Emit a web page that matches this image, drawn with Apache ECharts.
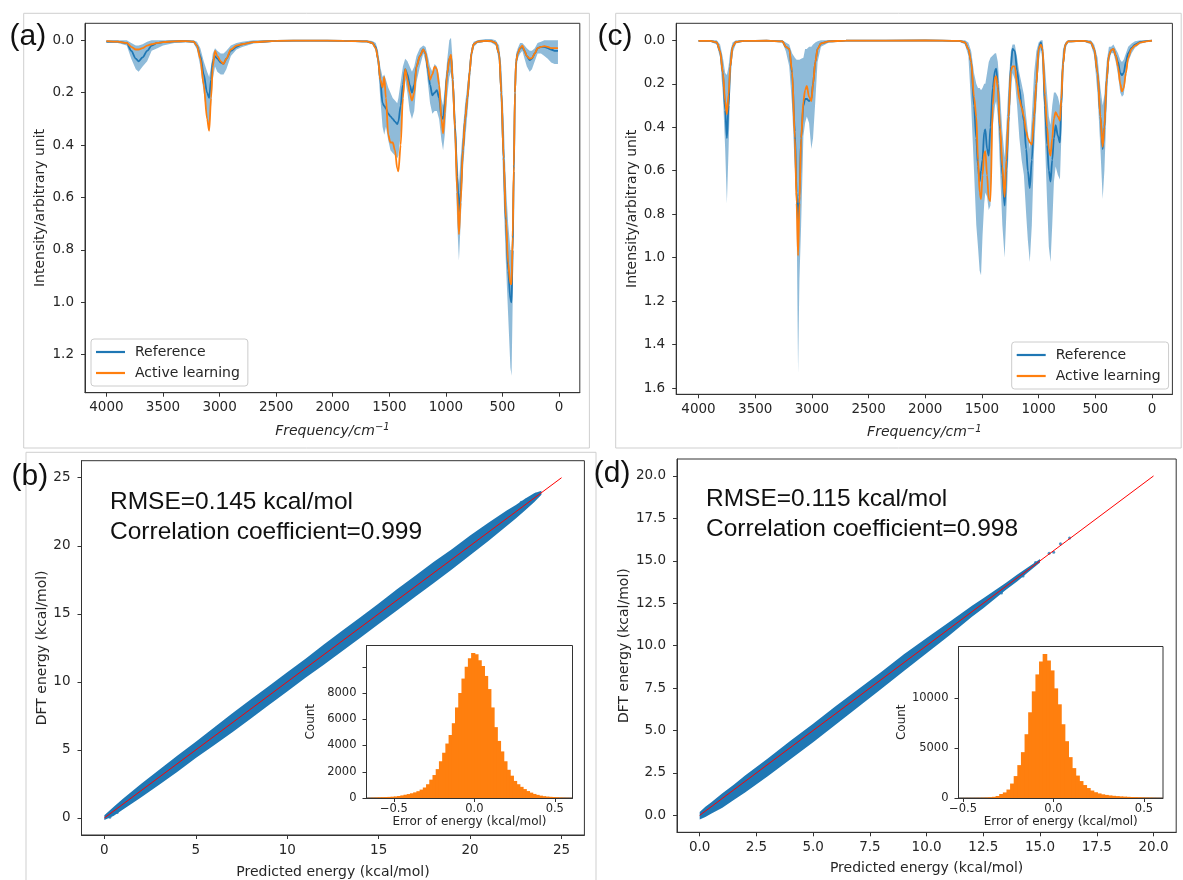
<!DOCTYPE html>
<html><head><meta charset="utf-8">
<script src="https://cdn.jsdelivr.net/npm/echarts@6/dist/echarts.min.js"></script>
<style>html,body{margin:0;padding:0;background:#fff}#c{width:1183px;height:880px}</style>
</head><body><div id="c"></div>
<script>
// ---------- Panel (a): IR spectrum ----------
const freqA = [4000,3900,3820,3780,3740,3715,3680,3640,3600,3550,3500,3400,3300,3230,3200,3170,3140,3110,3092,3075,3060,3040,3020,2990,2965,2940,2900,2850,2800,2700,2500,2200,1900,1700,1650,1620,1600,1580,1560,1545,1530,1510,1490,1470,1450,1430,1420,1400,1380,1360,1340,1320,1300,1280,1260,1230,1200,1180,1160,1140,1120,1100,1080,1060,1040,1025,1010,990,970,955,940,920,900,885,870,850,830,810,790,775,755,720,650,600,560,530,510,490,470,450,430,420,410,400,390,380,365,345,325,305,285,260,240,215,190,160,130,100,70,40,10];
const refA = [.005,.005,.01,.04,.07,.08,.065,.04,.02,.01,.007,.004,.003,.005,.02,.06,.13,.2,.22,.15,.08,.06,.07,.085,.09,.07,.04,.025,.015,.007,.002,.001,.002,.004,.01,.025,.07,.15,.24,.25,.26,.28,.29,.3,.31,.32,.31,.25,.17,.11,.13,.17,.2,.17,.1,.06,.035,.05,.11,.17,.21,.2,.19,.22,.29,.3,.24,.13,.07,.06,.15,.32,.52,.655,.58,.42,.3,.22,.12,.05,.015,.005,.002,.003,.01,.05,.2,.45,.7,.88,.99,1.0,.8,.5,.2,.08,.05,.03,.025,.04,.06,.075,.07,.05,.03,.025,.025,.03,.035,.04,.04];
const alA = [.003,.005,.01,.025,.035,.035,.03,.02,.015,.01,.007,.004,.003,.005,.02,.07,.17,.3,.345,.22,.1,.04,.06,.08,.09,.07,.035,.02,.015,.007,.002,.001,.002,.004,.01,.03,.07,.15,.18,.14,.22,.36,.39,.39,.42,.49,.5,.4,.22,.11,.15,.2,.23,.2,.1,.06,.035,.05,.1,.15,.13,.1,.11,.17,.3,.355,.28,.13,.07,.055,.15,.34,.58,.74,.62,.42,.3,.22,.12,.05,.015,.005,.002,.003,.01,.05,.2,.45,.68,.85,.93,.93,.75,.48,.2,.08,.05,.03,.02,.04,.06,.07,.068,.05,.03,.025,.022,.025,.03,.03,.03];
const bandLoA = [0,0,0,.01,.02,.02,.015,.005,0,0,0,0,0,0,.005,.03,.08,.12,.14,.1,.05,.03,.04,.05,.05,.04,.02,.01,.005,0,0,0,0,0,.003,.01,.04,.1,.14,.13,.15,.18,.2,.22,.23,.24,.22,.16,.1,.07,.08,.1,.12,.1,.06,.03,.02,.025,.06,.1,.12,.09,.1,.14,.22,.25,.18,.08,0,-.01,.08,.26,.45,.55,.45,.34,.24,.17,.08,.03,.005,0,-.005,-.005,0,.02,.1,.3,.55,.7,.8,.8,.6,.35,.12,.05,.03,.01,.01,.02,.03,.04,.04,.03,.01,.005,0,0,0,0,0];
const bandHiA = [.01,.01,.02,.07,.11,.12,.1,.08,.04,.03,.02,.01,.008,.01,.035,.1,.2,.3,.32,.25,.15,.1,.12,.13,.13,.11,.06,.035,.025,.012,.005,.004,.005,.008,.015,.04,.1,.22,.33,.36,.33,.38,.42,.43,.44,.45,.44,.36,.25,.15,.2,.27,.3,.27,.16,.1,.05,.08,.16,.24,.28,.27,.27,.3,.38,.42,.36,.22,.14,.12,.22,.42,.7,.84,.7,.5,.38,.28,.17,.08,.025,.01,.005,.008,.02,.08,.3,.6,.85,1.05,1.25,1.28,1.0,.65,.28,.12,.07,.05,.04,.07,.1,.12,.11,.08,.05,.05,.06,.07,.085,.09,.09];

// ---------- Panel (c): IR spectrum ----------
const freqC = [4000,3900,3840,3810,3785,3765,3750,3735,3720,3700,
  3670,3600,3400,3260,3230,3200,3175,3150,3135,3122,
  3110,3095,3075,3060,3045,3025,3005,2990,2970,2950,
  2920,2850,2700,2000,1700,1650,1620,1595,1570,1550,
  1535,1520,1508,1495,1480,1470,1455,1440,1425,1405,
  1385,1375,1360,1340,1320,1300,1285,1265,1245,1230,
  1210,1190,1170,1150,1130,1110,1095,1078,1060,1040,
  1020,1000,980,965,945,925,910,895,880,865,
  850,830,812,800,785,765,740,
  600,540,510,480,455,435,420,400,380,360,340,320,300,280,265,250,230,210,180,150,100,50,0];
const refC = [.003,.003,.01,.05,.15,.32,.45,.3,.12,.03,
  .008,.003,.002,.005,.03,.04,.15,.42,.7,.85,
  .72,.45,.3,.27,.27,.28,.27,.2,.1,.04,
  .015,.005,.002,.001,.003,.01,.04,.1,.3,.45,
  .58,.65,.6,.55,.42,.41,.5,.53,.4,.22,
  .14,.13,.2,.42,.62,.76,.6,.35,.12,.04,
  .05,.14,.22,.3,.37,.5,.6,.68,.55,.35,
  .2,.04,.01,.05,.3,.48,.6,.65,.55,.45,
  .39,.44,.47,.3,.11,.02,.005,
  .003,.01,.04,.15,.35,.5,.4,.18,.07,.045,.04,.07,.1,.15,.16,.15,.1,.06,.035,.02,.008,.004,.002];
const alC = [.003,.003,.01,.05,.15,.28,.34,.25,.12,.03,
  .008,.003,.002,.005,.03,.04,.14,.45,.75,.99,
  .75,.45,.28,.23,.21,.26,.28,.2,.1,.04,
  .015,.005,.002,.001,.003,.01,.04,.1,.26,.35,
  .55,.7,.73,.62,.52,.51,.62,.73,.74,.3,
  .17,.165,.22,.4,.58,.72,.55,.35,.14,.12,
  .12,.2,.27,.31,.35,.42,.45,.47,.48,.35,
  .2,.04,.02,.04,.25,.4,.5,.53,.45,.36,
  .33,.35,.37,.27,.11,.02,.005,
  .003,.01,.04,.15,.35,.49,.4,.18,.07,.045,.04,.07,.12,.2,.235,.22,.15,.08,.04,.025,.01,.005,.002];
const bandLoC = [0,0,0,.02,.08,.15,.16,.12,.05,.01,
  0,0,0,0,.01,.02,.06,.08,.09,.09,
  .09,.085,.08,.04,.04,.03,.03,.02,.01,.005,
  0,0,0,0,0,0,.01,.05,.15,.2,
  .22,.22,.23,.22,.2,.2,.15,.1,.08,.07,
  .06,.06,.1,.25,.42,.54,.4,.2,.05,.02,
  .02,.08,.15,.2,.25,.35,.42,.5,.35,.15,
  .05,.01,0,0,.12,.25,.35,.39,.3,.24,
  .24,.26,.3,.15,.04,.01,0,
  0,0,.02,.08,.22,.3,.25,.1,.03,.03,.02,.04,.06,.09,.1,.09,.06,.03,.015,.005,0,0,0];
const bandHiC = [.006,.006,.02,.08,.25,.5,.75,.5,.2,.06,
  .015,.006,.005,.01,.05,.12,.3,.6,.8,1.53,
  1.1,.85,.44,.38,.35,.38,.5,.45,.28,.1,
  .03,.01,.004,.003,.006,.02,.07,.3,.6,.85,
  .95,1.06,1.08,.9,.75,.7,.72,.78,.76,.4,
  .3,.28,.35,.6,.85,1.0,.8,.5,.25,.15,
  .18,.3,.45,.55,.62,.8,.92,1.02,.85,.5,
  .3,.1,.04,.1,.45,.75,.95,1.02,.85,.65,
  .58,.62,.64,.45,.15,.04,.01,
  .006,.02,.07,.25,.5,.73,.6,.3,.1,.06,.06,.1,.16,.24,.26,.25,.17,.1,.06,.035,.015,.008,.004];

// ---------- Panel (b): parity band + error histogram ----------
const scatBX    = [0,0.5,1,2,3,4,5,6,7,8,9,10,11,12,13,14,15,16,17,18,19,20,21,22,22.5,23,23.5,23.9];
const scatBLow  = [-0.15,0.15,0.6,1.5,2.45,3.4,4.4,5.35,6.3,7.3,8.3,9.3,10.3,11.25,12.25,13.25,14.25,15.25,16.25,17.25,18.25,19.3,20.35,21.45,22.0,22.6,23.2,23.75];
const scatBHigh = [0.2,0.8,1.4,2.5,3.55,4.6,5.6,6.65,7.7,8.7,9.7,10.7,11.7,12.75,13.75,14.75,15.75,16.8,17.8,18.8,19.75,20.75,21.7,22.6,23.0,23.45,23.85,24.05];
const outliersB = [[22.8,23.2],[23.1,23.4],[23.3,23.5],[23.6,23.8],[0.3,0.05],[0.7,0.4]];
const rmseB = 'RMSE=0.145 kcal/mol';
const corrB = 'Correlation coefficient=0.999';
const histBStart = -0.66, histBWidth = 0.02;
const histBCounts = [15,25,35,50,60,70,85,100,120,150,200,250,300,360,430,520,640,800,1050,1400,1750,2200,2800,3450,4150,4800,5700,6900,8000,9100,10000,10650,11050,10950,10500,10050,9300,8300,6900,5400,4350,3550,2800,2150,1700,1300,1050,850,680,530,410,310,240,180,140,110,90,75,55,35,25,15,10];

// ---------- Panel (d): parity band + error histogram ----------
const scatDX    = [0,0.25,0.5,1,1.5,2,3,4,5,6,7,8,9,10,11,12,12.5,13,13.5,14,14.5,15];
const scatDLow  = [-0.25,-0.1,0.1,0.45,0.9,1.35,2.3,3.3,4.3,5.35,6.4,7.45,8.5,9.55,10.6,11.7,12.2,12.75,13.3,13.8,14.35,14.9];
const scatDHigh = [0.2,0.5,0.75,1.3,1.8,2.35,3.35,4.4,5.4,6.45,7.45,8.45,9.5,10.45,11.4,12.35,12.8,13.25,13.7,14.2,14.65,15.1];
const outliersD = [[13.3,13.1],[14.0,14.0],[14.25,14.1],[14.8,14.9],[15.4,15.45],[15.6,15.5],[16.3,16.35],[15.9,16.0]];
const rmseD = 'RMSE=0.115 kcal/mol';
const corrD = 'Correlation coefficient=0.998';
const histDStart = -0.52, histDWidth = 0.02;
const histDCounts = [5,8,10,12,15,20,30,45,70,120,200,400,560,850,1450,2200,3300,4600,6400,8600,10700,12400,13700,14450,13800,12800,11000,9400,7400,5700,4100,3000,2250,1700,1300,1000,750,580,460,370,310,260,220,190,160,140,120,100,85,70,55,45,35,25,15,8];

// tick labels
const freqTicks = [0,500,1000,1500,2000,2500,3000,3500,4000];
const intTicksA = [0,0.2,0.4,0.6,0.8,1.0,1.2];
const intTicksC = [0,0.2,0.4,0.6,0.8,1.0,1.2,1.4,1.6];
const energyTicksB = [0,5,10,15,20,25];
const energyTicksD = [0,2.5,5,7.5,10,12.5,15,17.5,20];
const errTicks = [-0.5,0,0.5];
const countTicksB = [0,2000,4000,6000,8000,10000];
const countLabelsB = [0,2000,4000,6000,8000];
const countTicksD = [0,5000,10000];

// ---------- chart ----------
const BLUE = '#1f77b4', ORANGE = '#ff7f0e', FONT = 'DejaVu Sans', TXT = '#262626';
const BAND = 'rgba(31,119,180,0.5)';
const zip = (a, b) => a.map((v, i) => [v, b[i]]);
const fix1 = v => v.toFixed(1);
const errFmt = v => (v < 0 ? '\u2212' + Math.abs(v).toFixed(1) : v.toFixed(1));

function axis(grid, min, max, ticks, fmt, extra, labelTicks, fs, nfs, margin) {
  return Object.assign({
    type: 'value', gridIndex: grid, min: min, max: max,
    axisLine: {show: true, onZero: false, lineStyle: {color: '#333', width: 1}},
    axisTick: {show: true, inside: false, length: 4, customValues: ticks, lineStyle: {color: '#333'}},
    axisLabel: {show: true, customValues: labelTicks || ticks, formatter: fmt, fontFamily: FONT, fontSize: fs || 13.5, color: TXT, margin: margin},
    splitLine: {show: false},
    nameLocation: 'middle',
    nameTextStyle: {fontFamily: FONT, fontSize: nfs || 14, color: TXT}
  }, extra || {});
}
function grid(l, t, w, h) {
  return {left: l, top: t, width: w, height: h, containLabel: false, outerBoundsMode: 'none',
    show: true, borderColor: '#333', borderWidth: 1, backgroundColor: '#fff'};
}
// filled band between two edges, drawn as one polygon through the axis scales
function bandPoly(ax, xs, lo, hi, color) {
  return {type: 'custom', xAxisIndex: ax, yAxisIndex: ax, data: [[xs[0], lo[0]]], silent: true, clip: true, z: 1,
    renderItem: function (params, api) {
      const pts = [];
      for (let i = 0; i < xs.length; i++) pts.push(api.coord([xs[i], hi[i]]));
      for (let i = xs.length - 1; i >= 0; i--) pts.push(api.coord([xs[i], lo[i]]));
      return {type: 'polygon', shape: {points: pts}, style: {fill: color}};
    }};
}
function lineSeries(ax, name, xs, ys, color) {
  return {type: 'line', name: name, xAxisIndex: ax, yAxisIndex: ax, data: zip(xs, ys), symbol: 'none',
    smooth: 0.3, smoothMonotone: 'x', lineStyle: {color: color, width: 1.8}, itemStyle: {color: color}, z: 3};
}
function histSeries(ax, start, w, counts) {
  const data = counts.map((c, i) => [start + i * w, start + (i + 1) * w, c]);
  return {type: 'custom', xAxisIndex: ax, yAxisIndex: ax, data: data, encode: {x: [0, 1], y: 2}, silent: true, z: 3,
    renderItem: function (params, api) {
      const p0 = api.coord([api.value(0), api.value(2)]);
      const p1 = api.coord([api.value(1), 0]);
      return {type: 'rect', shape: {x: p0[0], y: p0[1], width: p1[0] - p0[0] + 1, height: p1[1] - p0[1]},
        style: {fill: ORANGE}};
    }};
}
function legend(l, t) {
  return {left: l, top: t, orient: 'vertical', icon: 'rect', itemWidth: 29, itemHeight: 2.2, itemGap: 5,
    padding: [5, 8, 5, 5], backgroundColor: 'rgba(255,255,255,0.85)', borderColor: '#cccccc', borderWidth: 1, borderRadius: 3,
    textStyle: {fontFamily: FONT, fontSize: 14, color: TXT, padding: [0, 0, 0, 5], lineHeight: 16},
    data: ['Reference', 'Active learning']};
}
const freqName = '{i|Frequency/cm}{s|\u22121}';
const freqRich = {i: {fontFamily: FONT, fontStyle: 'italic', fontSize: 14, color: TXT, lineHeight: 17},
                  s: {fontFamily: FONT, fontStyle: 'italic', fontSize: 10, color: TXT, verticalAlign: 'top', lineHeight: 17, padding: [0, 0, 7, 0]}};

const option = {
  animation: false,
  backgroundColor: '#fff',
  grid: [
    grid(85, 23.3, 494.8, 369.4),     // a
    grid(676.2, 23.3, 496.2, 371),    // c
    grid(81.5, 460.7, 502.9, 374.3),  // b
    grid(677, 459, 499.2, 373.3),     // d
    grid(366.5, 645.5, 206, 152.5),   // b inset
    grid(958.5, 646.5, 204.5, 151.5)  // d inset
  ],
  xAxis: [
    axis(0, -183, 4189, freqTicks, v => String(v), {inverse: true, name: freqName, nameGap: 30, nameTextStyle: {rich: freqRich}}, null, null, null, 8),
    axis(1, -180, 4197, freqTicks, v => String(v), {inverse: true, name: freqName, nameGap: 30, nameTextStyle: {rich: freqRich}}, null, null, null, 8),
    axis(2, -1.25, 26.25, energyTicksB, v => String(v), {name: 'Predicted energy (kcal/mol)', nameGap: 30}, null, null, null, 8),
    axis(3, -1, 21, energyTicksD, fix1, {name: 'Predicted energy (kcal/mol)', nameGap: 29}, null, null, null, 8),
    axis(4, -0.67, 0.61, errTicks, errFmt, {name: 'Error of energy (kcal/mol)', nameGap: 16}, null, 11.5, 12, 5),
    axis(5, -0.525, 0.605, errTicks, errFmt, {name: 'Error of energy (kcal/mol)', nameGap: 16}, null, 11.5, 12, 5)
  ],
  yAxis: [
    axis(0, -0.065, 1.345, intTicksA, fix1, {inverse: true, name: 'Intensity/arbitrary unit', nameGap: 38}, null, null, null, 11),
    axis(1, -0.078, 1.628, intTicksC, fix1, {inverse: true, name: 'Intensity/arbitrary unit', nameGap: 37}, null, null, null, 11),
    axis(2, -1.25, 26.25, energyTicksB, v => String(v), {name: 'DFT energy (kcal/mol)', nameGap: 32}, null, null, null, 11),
    axis(3, -1, 21, energyTicksD, fix1, {name: 'DFT energy (kcal/mol)', nameGap: 46}, null, null, null, 11),
    axis(4, 0, 11620, countTicksB, v => String(v), {name: 'Count', nameGap: 50}, countLabelsB, 11.5, 12, 10),
    axis(5, 0, 15200, countTicksD, v => String(v), {name: 'Count', nameGap: 48}, null, 11.5, 12, 10)
  ],
  legend: [legend(91, 339), legend(1011.7, 342)],
  series: [
    bandPoly(0, freqA, bandLoA, bandHiA, BAND),
    lineSeries(0, 'Reference', freqA, refA, BLUE),
    lineSeries(0, 'Active learning', freqA, alA, ORANGE),
    bandPoly(1, freqC, bandLoC, bandHiC, BAND),
    lineSeries(1, 'Reference', freqC, refC, BLUE),
    lineSeries(1, 'Active learning', freqC, alC, ORANGE),
    bandPoly(2, scatBX, scatBLow, scatBHigh, BLUE),
    {type: 'scatter', xAxisIndex: 2, yAxisIndex: 2, data: outliersB, symbolSize: 3, itemStyle: {color: BLUE}, silent: true, z: 2},
    {type: 'line', xAxisIndex: 2, yAxisIndex: 2, data: [[0, 0], [25, 25]], symbol: 'none', lineStyle: {color: '#ff0000', width: 1}, silent: true, z: 4},
    bandPoly(3, scatDX, scatDLow, scatDHigh, BLUE),
    {type: 'scatter', xAxisIndex: 3, yAxisIndex: 3, data: outliersD, symbolSize: 3, itemStyle: {color: BLUE}, silent: true, z: 2},
    {type: 'line', xAxisIndex: 3, yAxisIndex: 3, data: [[0, 0], [20, 20]], symbol: 'none', lineStyle: {color: '#ff0000', width: 1}, silent: true, z: 4},
    histSeries(4, histBStart, histBWidth, histBCounts),
    histSeries(5, histDStart, histDWidth, histDCounts)
  ],
  graphic: [
    {type: 'rect', shape: {x: 23.7, y: 13.3, width: 565.7, height: 434.7}, style: {fill: 'none', stroke: '#cfcfcf', lineWidth: 1}, silent: true, z: -10},
    {type: 'rect', shape: {x: 615.7, y: 13.3, width: 565.5, height: 434.7}, style: {fill: 'none', stroke: '#cfcfcf', lineWidth: 1}, silent: true, z: -10},
    {type: 'rect', shape: {x: 26, y: 452.3, width: 570, height: 440}, style: {fill: 'none', stroke: '#cfcfcf', lineWidth: 1}, silent: true, z: -10},
    {type: 'text', x: 9.6, y: 36.6, style: {text: '(a)', font: '30px "Liberation Sans"', fill: '#111', verticalAlign: 'middle'}, z: 100},
    {type: 'text', x: 597.6, y: 36.6, style: {text: '(c)', font: '30px "Liberation Sans"', fill: '#111', verticalAlign: 'middle'}, z: 100},
    {type: 'text', x: 11.5, y: 476.6, style: {text: '(b)', font: '30px "Liberation Sans"', fill: '#111', verticalAlign: 'middle'}, z: 100},
    {type: 'text', x: 593.8, y: 474, style: {text: '(d)', font: '30px "Liberation Sans"', fill: '#111', verticalAlign: 'middle'}, z: 100},
    {type: 'text', x: 110, y: 502.3, style: {text: rmseB, font: '24.5px "Liberation Sans"', fill: '#111', verticalAlign: 'middle'}, z: 100},
    {type: 'text', x: 110, y: 532, style: {text: corrB, font: '24.5px "Liberation Sans"', fill: '#111', verticalAlign: 'middle'}, z: 100},
    {type: 'text', x: 706, y: 499.5, style: {text: rmseD, font: '24.5px "Liberation Sans"', fill: '#111', verticalAlign: 'middle'}, z: 100},
    {type: 'text', x: 706, y: 529.2, style: {text: corrD, font: '24.5px "Liberation Sans"', fill: '#111', verticalAlign: 'middle'}, z: 100}
  ]
};
const chart = echarts.init(document.getElementById('c'), null, {renderer: 'canvas'});
chart.setOption(option);
</script></body></html>
